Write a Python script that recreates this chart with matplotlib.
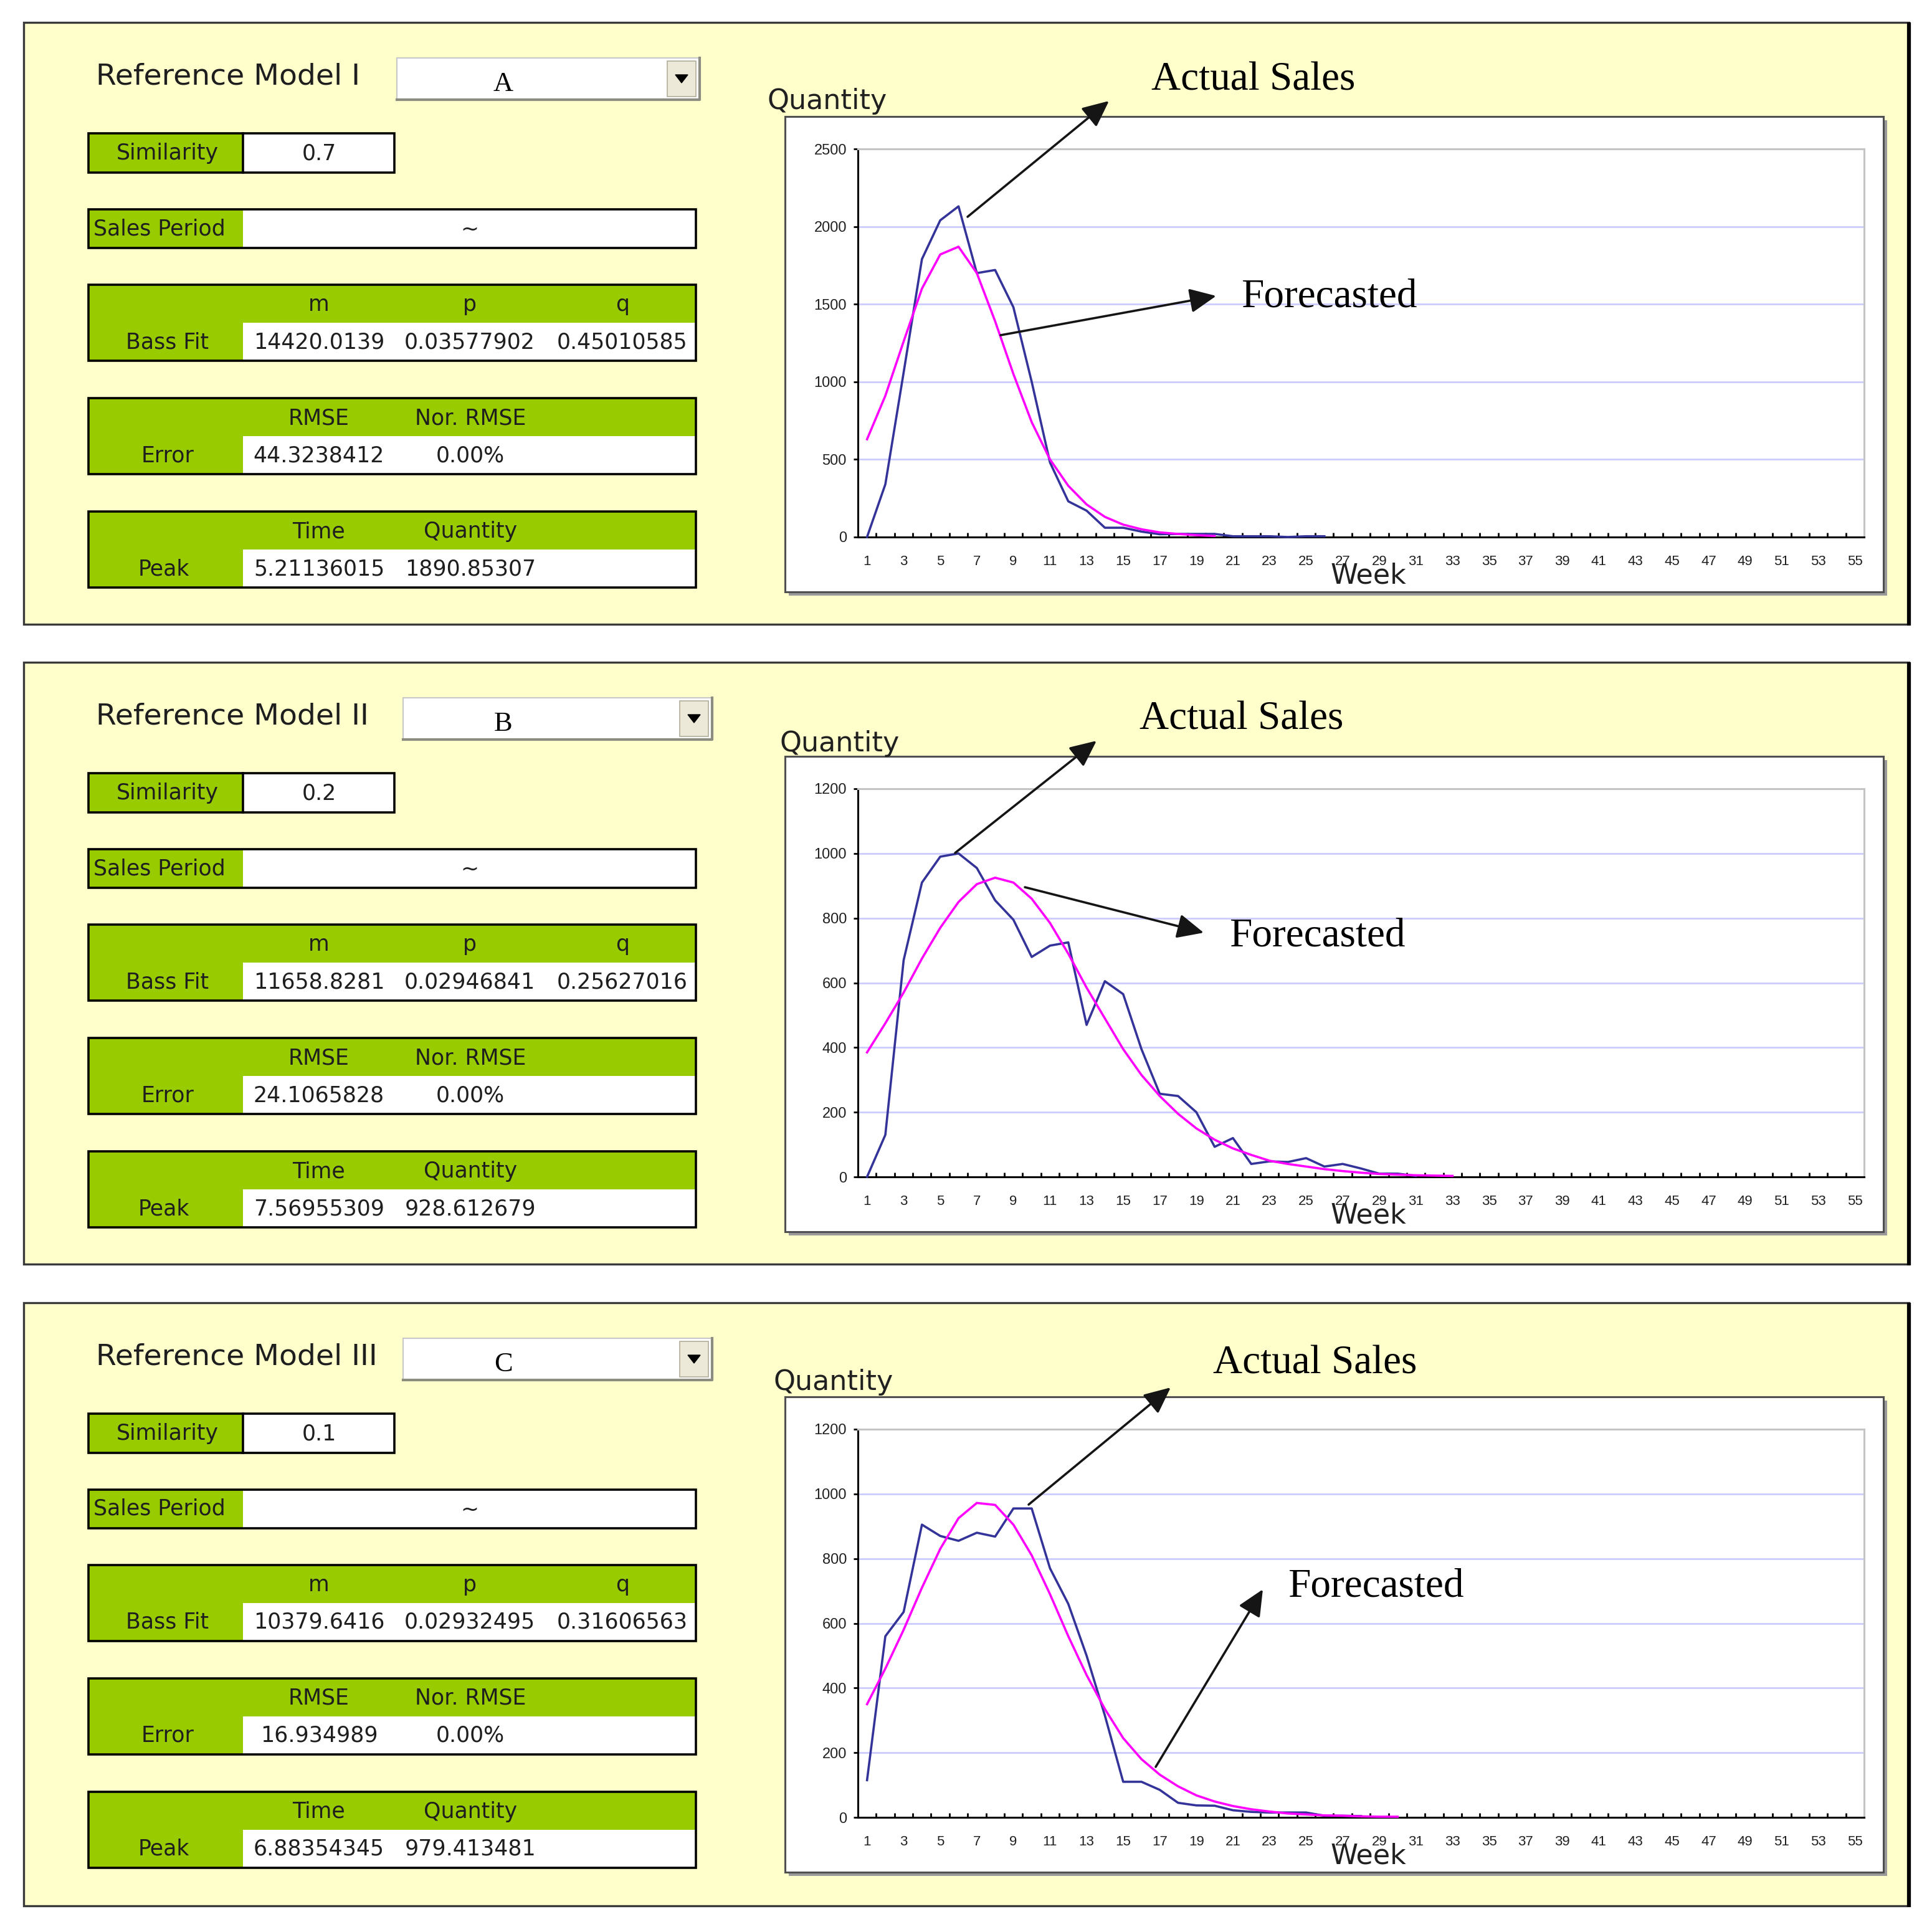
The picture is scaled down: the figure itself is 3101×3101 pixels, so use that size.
import matplotlib
matplotlib.use('Agg')
import matplotlib.pyplot as plt
from matplotlib.patches import Rectangle, Polygon
import numpy as np

W = H = 3101

# ---------------- data ----------------
weeks = list(range(1, 56))
week_labels = [str(w) for w in weeks if w % 2 == 1]

actual_1 = [0, 340, 1060, 1790, 2040, 2130, 1700, 1720, 1480, 1000, 480, 230, 170,
            60, 60, 35, 18, 20, 20, 20, 5, 5, 5, 0, 5, 5]
forecast_1 = [630, 910, 1260, 1600, 1820, 1870, 1700, 1390, 1050, 740, 500, 330, 210,
              130, 80, 50, 30, 20, 12, 7]

actual_2 = [0, 130, 670, 910, 990, 1000, 955, 855, 795, 680, 715, 725, 470, 605, 565,
            395, 257, 250, 200, 93, 120, 40, 48, 46, 58, 32, 40, 26, 10, 10, 3]
forecast_2 = [385, 475, 570, 675, 770, 850, 905, 925, 910, 860, 785, 690, 585, 490,
              395, 315, 250, 195, 150, 115, 88, 68, 50, 40, 32, 24, 18, 13, 9, 7, 5, 4, 3]

actual_3 = [115, 560, 635, 905, 870, 855, 880, 868, 955, 955, 770, 660, 500, 315, 110,
            110, 85, 45, 37, 36, 22, 17, 15, 15, 15, 5, 5, 4]
forecast_3 = [350, 460, 580, 710, 830, 925, 972, 966, 905, 810, 690, 560, 440, 335,
              245, 180, 132, 96, 68, 49, 35, 25, 18, 12, 9, 6, 5, 3, 2, 2]

actual = [actual_1, actual_2, actual_3]
forecast = [forecast_1, forecast_2, forecast_3]
y_max = [2500, 1200, 1200]
y_step = [500, 200, 200]

model_titles = ["Reference Model I", "Reference Model II", "Reference Model III"]
model_codes = ["A", "B", "C"]
similarity = ["0.7", "0.2", "0.1"]
bass_m = ["14420.0139", "11658.8281", "10379.6416"]
bass_p = ["0.03577902", "0.02946841", "0.02932495"]
bass_q = ["0.45010585", "0.25627016", "0.31606563"]
rmse = ["44.3238412", "24.1065828", "16.934989"]
nor_rmse = ["0.00%", "0.00%", "0.00%"]
peak_time = ["5.21136015", "7.56955309", "6.88354345"]
peak_qty = ["1890.85307", "928.612679", "979.413481"]

# ---------------- layout (pixels) ----------------
panel_top = [36, 1063, 2091]
panel_bot = [1002, 2029, 3059]
dd_x = [(637, 1123), (647, 1143), (647, 1143)]
qty_pos = [(1232, 126), (1252, 130), (1242, 128)]
act_lbl = [(2012, 93), (1993, 92), (2111, 98)]
fc_lbl = [(2133, 441), (2114, 440), (2208, 456)]
arrows_act = [((1553, 348), (1780, 162)), ((1533, 1369), (1760, 1189)), ((1651, 2415), (1879, 2227))]
arrows_fc = [((1606, 538), (1952, 475)), ((1645, 1424), (1932, 1497)), ((1855, 2836), (2027, 2551))]

GREEN = '#99CC00'
YELLOW = '#FFFFCC'
BLUE = '#333399'
PINK = '#FF00FF'
TXT = '#1e1e1e'
SANS = 'DejaVu Sans'
SERIF = 'Liberation Serif'

fig = plt.figure(figsize=(W / 100, H / 100), dpi=100, facecolor='white')
bg = fig.add_axes([0, 0, 1, 1], zorder=0)
bg.set_xlim(0, W); bg.set_ylim(H, 0); bg.axis('off')
ov = fig.add_axes([0, 0, 1, 1], zorder=10)
ov.set_xlim(0, W); ov.set_ylim(H, 0); ov.axis('off'); ov.patch.set_alpha(0)


def rect(ax, x0, y0, x1, y1, fc='none', ec='none', lw=0, z=1):
    ax.add_patch(Rectangle((x0, y0), x1 - x0, y1 - y0, facecolor=fc, edgecolor=ec,
                           linewidth=lw, zorder=z))


def txt(ax, x, y, s, size=25, ha='center', family=SANS, color=TXT, z=5):
    ax.text(x, y, s, ha=ha, va='center', fontsize=size, family=family, color=color, zorder=z)


for i in range(3):
    T = panel_top[i]
    B = panel_bot[i]
    # panel
    rect(bg, 38, T, 3064, B, fc=YELLOW, ec='#3a3a3a', lw=2.4, z=1)
    bg.plot([3064, 3064], [T, B + 2], color='black', lw=4.5, zorder=2, solid_capstyle='butt')

    # title + dropdown
    txt(bg, 154, T + 87, model_titles[i], size=34, ha='left', z=3)
    x0, x1 = dd_x[i]
    rect(bg, x0, T + 57, x1, T + 124, fc='white', ec='#c8c8c8', lw=1.5, z=2)
    bg.plot([x0, x1, x1], [T + 124, T + 124, T + 57], color='#8c8c80', lw=3.0, zorder=3)
    rect(bg, x1 - 52, T + 62, x1 - 6, T + 119, fc='#ECE9D8', ec='#b0ad9a', lw=1.2, z=3)
    bx = x1 - 29
    by = T + 90
    bg.add_patch(Polygon([[bx - 10, by - 6], [bx + 10, by - 6], [bx, by + 7]],
                         closed=True, facecolor='black', edgecolor='black', zorder=4))
    txt(bg, 808, T + 99, model_codes[i], size=32, family=SERIF, color='black', z=4)

    # similarity
    rect(bg, 142, T + 178, 390, T + 241, fc=GREEN, z=2)
    rect(bg, 390, T + 178, 633, T + 241, fc='white', z=2)
    rect(bg, 142, T + 178, 633, T + 241, ec='black', lw=2.6, z=3)
    bg.plot([390, 390], [T + 178, T + 241], color='black', lw=2.6, zorder=3)
    txt(bg, 269, T + 210, 'Similarity', z=4)
    txt(bg, 512, T + 210, similarity[i], z=4)

    # sales period
    rect(bg, 142, T + 300, 390, T + 362, fc=GREEN, z=2)
    rect(bg, 390, T + 300, 1117, T + 362, fc='white', z=2)
    rect(bg, 142, T + 300, 1117, T + 362, ec='black', lw=2.6, z=3)
    txt(bg, 150, T + 331, 'Sales Period', ha='left', z=4)
    txt(bg, 754, T + 333, '~', z=4)

    # three 2-row blocks
    blocks = [
        (421, 'Bass Fit', 269, [('m', bass_m[i], 512), ('p', bass_p[i], 754), ('q', bass_q[i], 999)]),
        (603, 'Error', 269, [('RMSE', rmse[i], 512), ('Nor. RMSE', nor_rmse[i], 755)]),
        (785, 'Peak', 263, [('Time', peak_time[i], 512), ('Quantity', peak_qty[i], 755)]),
    ]
    for top, label, lx, cols in blocks:
        y0 = T + top
        ym = y0 + 61
        y1 = y0 + 122
        rect(bg, 142, y0, 1117, y1, fc=GREEN, z=2)
        rect(bg, 390, ym, 1117, y1, fc='white', z=2)
        rect(bg, 142, y0, 1117, y1, ec='black', lw=2.6, z=3)
        txt(bg, lx, ym + 31, label, z=4)
        for head, val, cx in cols:
            txt(bg, cx, y0 + 32, head, z=4)
            txt(bg, cx, ym + 31, val, z=4)

    # chart box
    rect(bg, 1266, T + 157, 3029, T + 920, fc='#9a9a9a', z=2)
    rect(bg, 1260, T + 151, 3023, T + 914, fc='white', ec='#505050', lw=2.2, z=3)

    # plot axes
    pl, pr = 1377, 2992
    pt, pb = T + 203, T + 826
    ax = fig.add_axes([pl / W, 1 - pb / H, (pr - pl) / W, (pb - pt) / H], zorder=4)
    ax.set_facecolor('white')
    a = actual[i]
    f = forecast[i]
    ax.plot(weeks[:len(a)], a, color=BLUE, lw=2.6, zorder=3, clip_on=False)
    ax.plot(weeks[:len(f)], f, color=PINK, lw=2.6, zorder=3, clip_on=False)
    ax.set_xlim(0.5, 55.5)
    ax.set_ylim(0, y_max[i])
    yt = np.arange(0, y_max[i] + 1, y_step[i])
    ax.set_yticks(yt)
    ax.set_yticklabels([str(v) for v in yt], family='Liberation Sans', fontsize=17, color='#202020')
    ax.set_xticks([w for w in weeks if w % 2 == 1])
    ax.set_xticklabels(week_labels, family='Liberation Sans', fontsize=16, color='#202020')
    ax.set_xticks(np.arange(0.5, 56, 1.0), minor=True)
    ax.tick_params(axis='x', which='major', length=0, pad=21)
    ax.tick_params(axis='x', which='minor', direction='in', length=5, width=2, color='black')
    ax.tick_params(axis='y', which='major', direction='out', length=5, width=2, pad=8, color='black')
    for v in yt[1:-1]:
        ax.axhline(v, color='#CCCCFF', lw=2.0, zorder=1)
    for s in ['left', 'bottom']:
        ax.spines[s].set_color('black')
        ax.spines[s].set_linewidth(2.2)
    for s in ['top', 'right']:
        ax.spines[s].set_color('#C4C4C4')
        ax.spines[s].set_linewidth(2.2)

    # overlay annotations
    qx, qy = qty_pos[i]
    txt(ov, qx, T + qy, 'Quantity', size=32, ha='left', color='#202020')
    axx, axy = act_lbl[i]
    txt(ov, axx, T + axy, 'Actual Sales', size=47, family=SERIF, color='black')
    fx, fy = fc_lbl[i]
    txt(ov, fx, T + fy, 'Forecasted', size=47, family=SERIF, color='black')
    txt(ov, 2196, T + 888, 'Week', size=32, color='#202020')
    for (tail, tip) in (arrows_act[i], arrows_fc[i]):
        ov.annotate('', xy=tip, xytext=tail,
                    arrowprops=dict(arrowstyle='-|>,head_length=0.65,head_width=0.3',
                                    mutation_scale=40, lw=2.6, color='#151515',
                                    shrinkA=0, shrinkB=0))

fig.savefig('out.png', dpi=100, facecolor='white')
